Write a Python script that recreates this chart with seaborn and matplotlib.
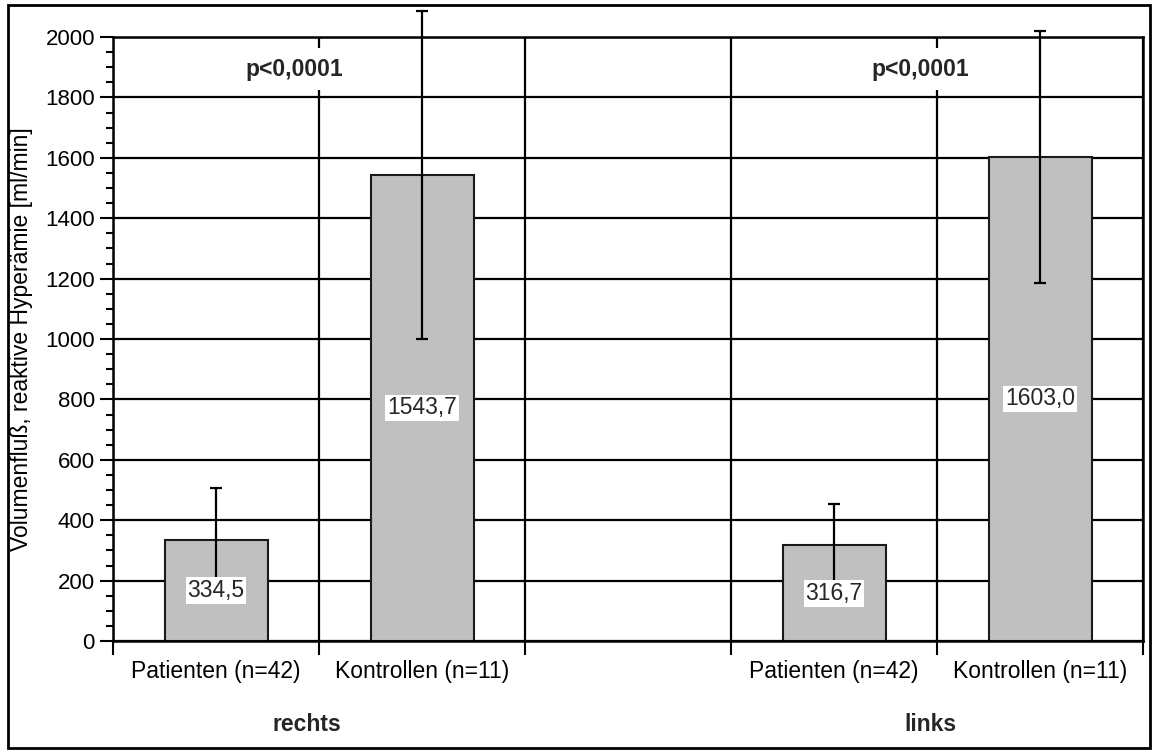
import numpy as np
import pandas as pd
import matplotlib
matplotlib.use("Agg")
import matplotlib.pyplot as plt
import matplotlib.patches as mpatches
from matplotlib.ticker import MultipleLocator, FixedLocator
import seaborn as sns

# Volumenfluss bei reaktiver Hyperämie (Mittelwert ± SD), rechte und linke Seite
seiten = ["rechts", "rechts", "links", "links"]
gruppen = ["Patienten (n=42)", "Kontrollen (n=11)", "Patienten (n=42)", "Kontrollen (n=11)"]
mittelwerte = [334.5, 1543.7, 316.7, 1603.0]
standardabw = [173.0, 543.0, 138.0, 417.0]
wert_texte = ["334,5", "1543,7", "316,7", "1603,0"]
p_texte = ["p<0,0001", "p<0,0001"]
seiten_titel = ["rechts", "links"]
y_titel = "Volumenfluß, reaktive Hyperämie [ml/min]"

FS = 16.5

sns.set_theme(style="white")
plt.rcParams["font.family"] = ["Liberation Sans", "DejaVu Sans"]
plt.rcParams["font.size"] = FS

df = pd.DataFrame({"seite": seiten, "gruppe": gruppen, "wert": mittelwerte})
df["slot"] = df["seite"] + " / " + df["gruppe"]
# an empty slot separates the two sides
reihenfolge = [df["slot"][0], df["slot"][1], "", df["slot"][2], df["slot"][3]]

fig = plt.figure(figsize=(11.54, 7.56), dpi=100)
ax = fig.add_axes([113 / 1154, 1 - 641 / 756, 1030 / 1154, 604 / 756])

sns.barplot(data=df, x="slot", y="wert", order=reihenfolge, width=0.5,
            color="#c0c0c0", saturation=1, edgecolor="#1a1a1a", linewidth=1.5,
            errorbar=None, ax=ax, zorder=2)

pos = [reihenfolge.index(s) for s in df["slot"]]
eb = ax.errorbar(pos, mittelwerte, yerr=standardabw, fmt="none", ecolor="black",
                 elinewidth=1.6, capsize=4.3, capthick=1.6, zorder=4)
for art in eb.lines[1]:
    art.set_clip_on(False)
for coll in eb.lines[2]:
    coll.set_clip_on(False)

# value labels at half bar height
for x, m, t in zip(pos, mittelwerte, wert_texte):
    ax.text(x, m / 2, t, ha="center", va="center", fontsize=FS, zorder=5,
            bbox=dict(boxstyle="square,pad=0.08", fc="white", ec="none"))

# significance labels
for x, t in zip([0.38, 3.42], p_texte):
    ax.text(x, 1894, t, ha="center", va="center", fontsize=FS, fontweight="bold",
            zorder=5, bbox=dict(boxstyle="square,pad=0.42", fc="white", ec="none"))

# side labels below the category labels
for x, t in zip([0.44, 3.47], seiten_titel):
    ax.text(x, -0.139, t, ha="center", va="center", fontsize=FS, fontweight="bold",
            transform=ax.get_xaxis_transform())

ax.set_xlim(-0.5, 4.5)
ax.set_ylim(0, 2000)
ax.yaxis.set_major_locator(MultipleLocator(200))
ax.yaxis.set_minor_locator(MultipleLocator(50))
ax.xaxis.set_major_locator(FixedLocator([0, 1, 3, 4]))
ax.set_xticklabels([gruppen[0], gruppen[1], gruppen[2], gruppen[3]])
ax.xaxis.set_minor_locator(FixedLocator(np.arange(-0.5, 5, 1.0)))

ax.tick_params(axis="x", which="major", length=0, pad=14, labelsize=FS, colors="black")
ax.tick_params(axis="x", which="minor", length=10, width=1.5, direction="out",
               bottom=True, color="black")
ax.tick_params(axis="y", which="major", length=9.5, width=1.5, direction="out",
               left=True, pad=3.5, labelsize=16, colors="black")
ax.tick_params(axis="y", which="minor", length=5, width=1.5, direction="out", left=True,
               color="black")

ax.set_axisbelow(True)
ax.grid(False)
ax.yaxis.grid(True, which="major", color="black", linewidth=1.6)
ax.xaxis.grid(True, which="minor", color="black", linewidth=1.6)

for sp in ax.spines.values():
    sp.set_visible(True)
    sp.set_color("black")
    sp.set_linewidth(1.8)

ax.set_xlabel("")
ax.set_ylabel(y_titel, fontsize=FS, color="black")
ax.yaxis.set_label_coords(-0.078, 0.5)

# frame around the whole figure
fig.patches.append(mpatches.Rectangle((8 / 1154, 1 - 748 / 756), 1142 / 1154, 743 / 756,
                                      transform=fig.transFigure, fill=False,
                                      edgecolor="black", linewidth=2))

fig.savefig("out.png", dpi=100)
